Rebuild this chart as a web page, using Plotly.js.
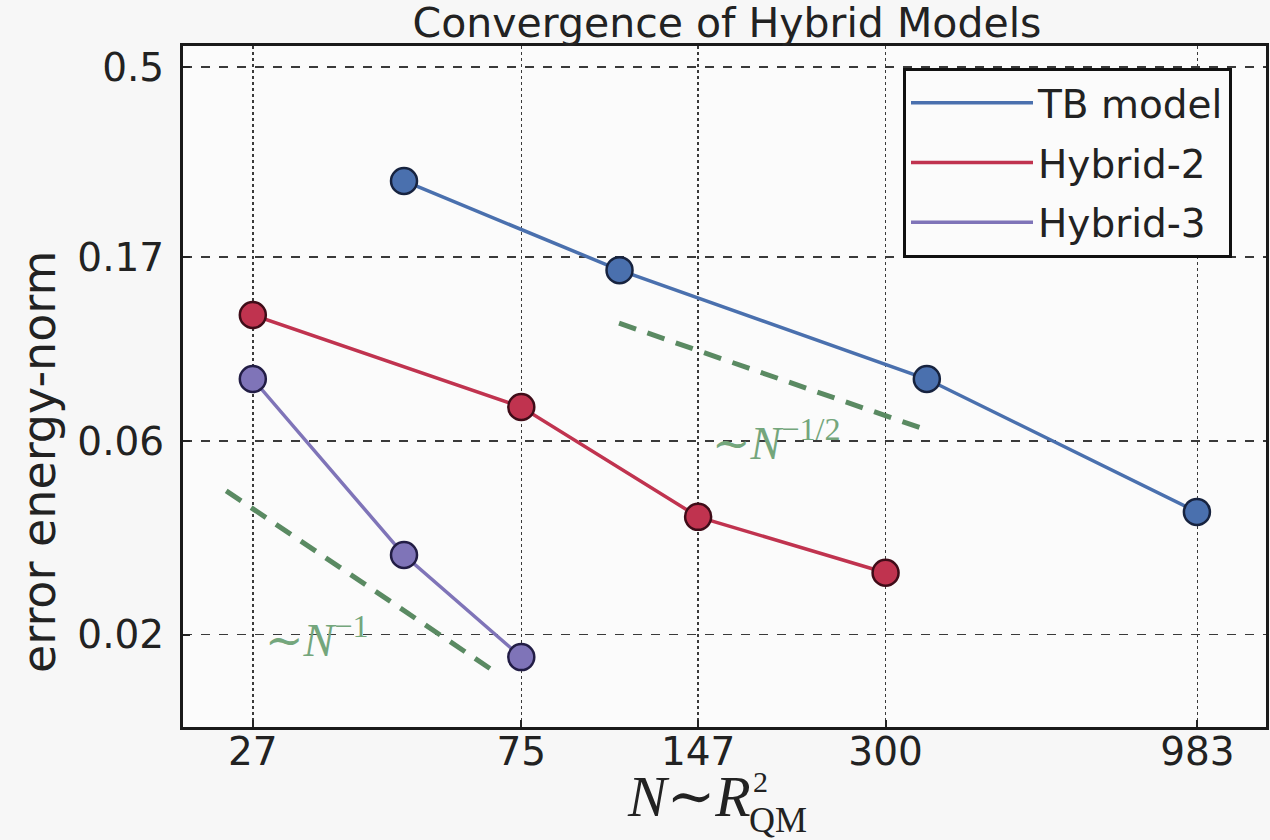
<!DOCTYPE html>
<html>
<head>
<meta charset="utf-8">
<script src="https://cdn.plot.ly/plotly-3.0.1.min.js"></script>
<style>
  html, body { margin: 0; padding: 0; background: #f7f7f7; }
  #chart { width: 1270px; height: 840px; }
</style>
</head>
<body>
<div id="chart"></div>
<script>
// ---- data ----
const seriesNames = ["TB model", "Hybrid-2", "Hybrid-3"];

const tbN     = [48, 109, 351, 981];
const tbErr   = [0.262, 0.158, 0.0852, 0.0401];

const hyb2N   = [27, 75, 147, 300];
const hyb2Err = [0.1225, 0.0727, 0.039, 0.0284];

const hyb3N   = [27, 48, 75];
const hyb3Err = [0.0852, 0.0314, 0.0176];

// reference slope guides
const slope1N   = [24.4, 67.8];
const slope1Err = [0.0452, 0.0162];
const slopeHalfN   = [108.8, 351];
const slopeHalfErr = [0.117, 0.0638];

const xTicks = [27, 75, 147, 300, 983];
const xTickText = ["27", "75", "147", "300", "983"];
const yTicks = [0.02, 0.06, 0.17, 0.5];
const yTickText = ["0.02", "0.06", "0.17", "0.5"];

// ---- styles ----
const colors = ["#4a70ae", "#c0334f", "#7f74b8"];
const edges  = ["#17233f", "#3f0c18", "#221d45"];
const guideColor = "#5a8a62";
const labelColor = "#74a67c";

const xs = [tbN, hyb2N, hyb3N];
const ys = [tbErr, hyb2Err, hyb3Err];

const traces = [];
traces.push({
  x: slope1N, y: slope1Err, mode: "lines", showlegend: false, hoverinfo: "skip",
  line: { color: guideColor, width: 5, dash: "18px,12px" }
});
traces.push({
  x: slopeHalfN, y: slopeHalfErr, mode: "lines", showlegend: false, hoverinfo: "skip",
  line: { color: guideColor, width: 5, dash: "18px,12px" }
});
for (let i = 0; i < 3; i++) {
  traces.push({
    x: xs[i], y: ys[i], mode: "lines", name: seriesNames[i],
    legendgroup: "g" + i,
    line: { color: colors[i], width: 3.5 }
  });
}
for (let i = 0; i < 3; i++) {
  traces.push({
    x: xs[i], y: ys[i], mode: "markers", name: seriesNames[i],
    legendgroup: "g" + i, showlegend: false,
    marker: { size: 26, color: colors[i], line: { color: edges[i], width: 2.5 } }
  });
}

const L = 183, R = 1266, T = 46, B = 727;
const pw = R - L, ph = B - T;
const px = v => (v - L) / pw;
const py = v => (B - v) / ph;

const serif = "Liberation Serif, DejaVu Serif, serif";

const layout = {
  width: 1270, height: 840,
  paper_bgcolor: "#f7f7f7",
  plot_bgcolor: "#fbfbfb",
  margin: { l: L, r: 1270 - R, t: T, b: 840 - B },
  font: { family: "DejaVu Sans, sans-serif", color: "#222" },
  title: {
    text: "Convergence of Hybrid Models",
    font: { size: 41, color: "#222" },
    x: px(727), xref: "paper", xanchor: "center",
    y: 1 - 23 / 840, yref: "container", yanchor: "middle"
  },
  xaxis: {
    type: "log",
    range: [Math.log10(20.7), Math.log10(1276)],
    tickvals: xTicks, ticktext: xTickText,
    tickfont: { size: 39, color: "#222" },
    ticks: "inside", ticklen: 7, tickwidth: 2, tickcolor: "#222",
    ticklabelstandoff: -12,
    showgrid: true, gridcolor: "#3a3a3a", gridwidth: 1.5, griddash: "dot",
    showline: true, linecolor: "#1a1a1a", linewidth: 3, mirror: true,
    zeroline: false
  },
  yaxis: {
    type: "log",
    range: [-1.9266, -0.2493],
    tickvals: yTicks, ticktext: yTickText,
    tickfont: { size: 39, color: "#222" },
    ticks: "inside", ticklen: 7, tickwidth: 2, tickcolor: "#222",
    ticklabelstandoff: 8,
    showgrid: true, gridcolor: "#3a3a3a", gridwidth: 1.5, griddash: "dash",
    showline: true, linecolor: "#1a1a1a", linewidth: 3, mirror: true,
    zeroline: false
  },
  legend: {
    x: px(903), y: py(68), xanchor: "left", yanchor: "top",
    bgcolor: "#fbfbfb", bordercolor: "#111", borderwidth: 3,
    font: { size: 39, color: "#222" },
    itemwidth: 122, tracegroupgap: 6, traceorder: "grouped"
  },
  showlegend: true,
  annotations: [
    { // y-axis title
      text: "error energy-norm", textangle: -90,
      xref: "paper", yref: "paper", x: px(39), y: py(462),
      xanchor: "center", yanchor: "middle", showarrow: false,
      font: { size: 46, color: "#222" }
    },
    { // x-axis title main part
      text: "<i>N</i>\u223c<i>R</i>",
      xref: "paper", yref: "paper", x: px(753), y: py(797),
      xanchor: "right", yanchor: "middle", showarrow: false,
      font: { size: 58, family: serif, color: "#222" }
    },
    { // superscript 2
      text: "2",
      xref: "paper", yref: "paper", x: px(751), y: py(781),
      xanchor: "left", yanchor: "middle", showarrow: false,
      font: { size: 30, family: serif, color: "#222" }
    },
    { // subscript QM
      text: "QM",
      xref: "paper", yref: "paper", x: px(747), y: py(820),
      xanchor: "left", yanchor: "middle", showarrow: false,
      font: { size: 36, family: serif, color: "#222" }
    },
    { // slope label N^-1
      text: "\u223c<i>N</i><sup>\u22121</sup>",
      xref: "paper", yref: "paper", x: px(263), y: py(637),
      xanchor: "left", yanchor: "middle", showarrow: false,
      font: { size: 46, family: serif, color: labelColor }
    },
    { // slope label N^-1/2
      text: "\u223c<i>N</i><sup>\u22121/2</sup>",
      xref: "paper", yref: "paper", x: px(710), y: py(440),
      xanchor: "left", yanchor: "middle", showarrow: false,
      font: { size: 46, family: serif, color: labelColor }
    }
  ]
};

Plotly.newPlot("chart", traces, layout, { displayModeBar: false, staticPlot: true });
</script>
</body>
</html>
